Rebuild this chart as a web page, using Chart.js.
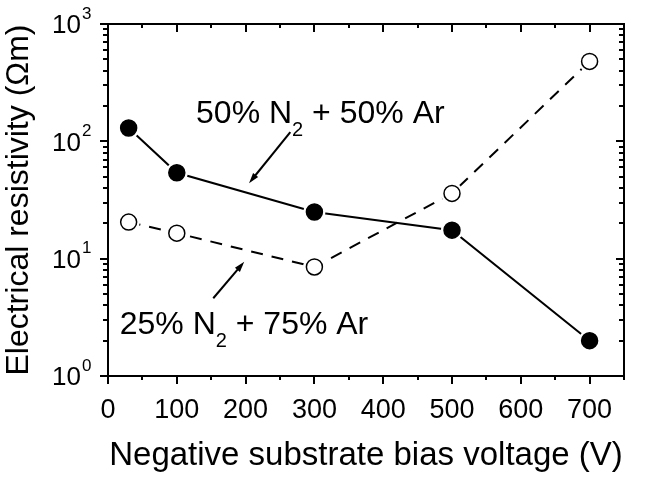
<!DOCTYPE html>
<html>
<head>
<meta charset="utf-8">
<script src="https://cdn.jsdelivr.net/npm/chart.js@4.4.1/dist/chart.umd.min.js"></script>
<style>
  html, body { margin: 0; padding: 0; background: #fff; }
  #wrap { width: 646px; height: 478px; }
</style>
</head>
<body>
<div id="wrap"><canvas id="resistivityChart"></canvas></div>
<script>
  // bias voltage (V)
  const biasVoltage = [30, 100, 300, 500, 700];
  // electrical resistivity (Ohm m)
  const rho50N2 = [130, 54, 25, 17.5, 2.0];
  const rho25N2 = [20.5, 16.5, 8.5, 36, 480];
  const xTickValues = [0, 100, 200, 300, 400, 500, 600, 700];
  const yDecades = [0, 1, 2, 3];

  const FONT = "'Liberation Sans', Arial, sans-serif";

  function pts(ys) {
    return biasVoltage.map((x, i) => ({ x: x, y: ys[i] }));
  }

  // frame, ticks, log labels and the two arrow notes
  const frameAndNotes = {
    id: 'frameAndNotes',
    afterDraw(chart) {
      const ctx = chart.ctx;
      const xs = chart.scales.x, ys = chart.scales.y;
      const a = chart.chartArea;
      ctx.save();
      ctx.strokeStyle = '#000';
      ctx.fillStyle = '#000';
      ctx.lineWidth = 2;
      ctx.strokeRect(a.left, a.top, a.right - a.left, a.bottom - a.top);

      // x ticks: major every 100, minor every 50
      for (let v = 0; v <= 750; v += 50) {
        const px = Math.round(xs.getPixelForValue(v));
        const len = v % 100 === 0 ? 8 : 4;
        ctx.beginPath();
        ctx.moveTo(px, a.bottom); ctx.lineTo(px, a.bottom + len);
        ctx.moveTo(px, a.top); ctx.lineTo(px, a.top + len);
        ctx.stroke();
      }
      // y ticks: decades + minor 2..9
      yDecades.forEach(d => {
        for (let m = 1; m <= 9; m++) {
          const v = m * Math.pow(10, d);
          if (v > 1000) break;
          const py = Math.round(ys.getPixelForValue(v));
          const len = m === 1 ? 8 : 5;
          ctx.beginPath();
          ctx.moveTo(a.left, py); ctx.lineTo(a.left - len, py);
          ctx.moveTo(a.right, py); ctx.lineTo(a.right - len, py);
          ctx.stroke();
        }
      });

      // y labels 10^n
      ctx.textBaseline = 'middle';
      yDecades.forEach(d => {
        const py = ys.getPixelForValue(Math.pow(10, d));
        ctx.font = '26px ' + FONT;
        ctx.textAlign = 'right';
        ctx.fillText('10', 81, py + 2);
        ctx.font = '17px ' + FONT;
        ctx.textAlign = 'left';
        ctx.fillText(String(d), 82, py - 10);
      });

      // notes with subscript
      function note(x, y, parts) {
        let px = xs.getPixelForValue(x);
        const py = ys.getPixelForValue(y);
        ctx.textAlign = 'left';
        ctx.textBaseline = 'alphabetic';
        parts.forEach(p => {
          ctx.font = (p.sub ? '20px ' : '32px ') + FONT;
          ctx.fillText(p.t, px, p.sub ? py + 13 : py);
          px += ctx.measureText(p.t).width;
        });
      }
      note(128, 143, [{ t: '50% N' }, { t: '2', sub: true }, { t: ' + 50% Ar' }]);
      note(17, 2.3, [{ t: '25% N' }, { t: '2', sub: true }, { t: ' + 75% Ar' }]);

      function arrow(x0, y0, x1, y1) {
        const p0 = [xs.getPixelForValue(x0), ys.getPixelForValue(y0)];
        const p1 = [xs.getPixelForValue(x1), ys.getPixelForValue(y1)];
        const ang = Math.atan2(p1[1] - p0[1], p1[0] - p0[0]);
        ctx.lineWidth = 2;
        ctx.beginPath();
        ctx.moveTo(p0[0], p0[1]);
        ctx.lineTo(p1[0] - 6 * Math.cos(ang), p1[1] - 6 * Math.sin(ang));
        ctx.stroke();
        ctx.beginPath();
        ctx.moveTo(p1[0], p1[1]);
        ctx.lineTo(p1[0] - 11 * Math.cos(ang - 0.3), p1[1] - 11 * Math.sin(ang - 0.3));
        ctx.lineTo(p1[0] - 11 * Math.cos(ang + 0.3), p1[1] - 11 * Math.sin(ang + 0.3));
        ctx.closePath();
        ctx.fill();
      }
      arrow(265, 120, 205, 44);
      arrow(153, 4.6, 198, 9.4);
      ctx.restore();
    }
  };

  // line-only, white halo and marker layers (lower order draws on top)
  function lineSet(ys, dash) {
    return { data: pts(ys), borderColor: '#000', borderWidth: 2, borderDash: dash,
             pointRadius: 0, tension: 0, order: 3 };
  }
  function haloSet(ys) {
    return { data: pts(ys), showLine: false, pointRadius: 11, pointBorderWidth: 0,
             pointBackgroundColor: '#fff', pointBorderColor: '#fff', order: 2 };
  }
  function markerSet(ys, fill) {
    return { data: pts(ys), showLine: false, pointRadius: 8, pointBorderWidth: 1.5,
             pointBackgroundColor: fill, pointBorderColor: '#000', order: 1 };
  }

  new Chart('resistivityChart', {
    type: 'line',
    data: {
      datasets: [
        lineSet(rho50N2, []), lineSet(rho25N2, [12, 9]),
        haloSet(rho50N2), haloSet(rho25N2),
        markerSet(rho50N2, '#000'), markerSet(rho25N2, '#fff')
      ]
    },
    options: {
      responsive: true,
      maintainAspectRatio: false,
      animation: false,
      layout: { padding: { top: 24, right: 22, left: 0, bottom: 0 } },
      plugins: { legend: { display: false }, tooltip: { enabled: false } },
      scales: {
        x: {
          type: 'linear',
          min: 0, max: 750,
          afterBuildTicks: s => { s.ticks = xTickValues.map(v => ({ value: v })); },
          afterFit: s => { s.height = 102; },
          grid: { display: false, drawTicks: false },
          border: { display: false },
          ticks: { color: '#000', font: { family: FONT, size: 27 }, padding: 18, maxRotation: 0 },
          title: {
            display: true, text: 'Negative substrate bias voltage (V)',
            color: '#000', font: { family: FONT, size: 33 }, padding: { top: 6, bottom: 2 }
          }
        },
        y: {
          type: 'logarithmic',
          min: 1, max: 1000,
          afterFit: s => { s.width = 108; },
          grid: { display: false, drawTicks: false },
          border: { display: false },
          ticks: { display: false },
          title: {
            display: true, text: 'Electrical resistivity (\u03A9m)',
            color: '#000', font: { family: FONT, size: 32 }, padding: { top: 0, bottom: 0 }
          }
        }
      }
    },
    plugins: [frameAndNotes]
  });
</script>
</body>
</html>
